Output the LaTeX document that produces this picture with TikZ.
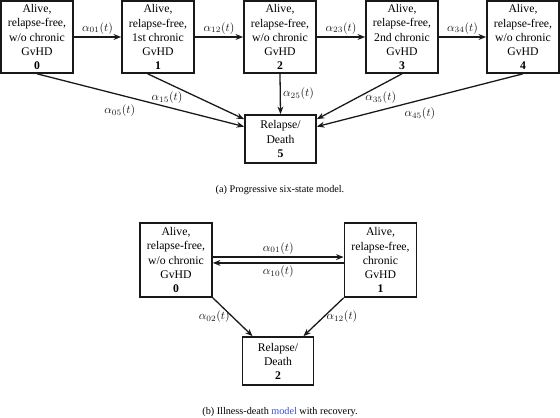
\documentclass[tikz,border=0pt]{standalone}
\usepackage{fontspec}
\setmainfont{Liberation Serif}
\usepackage{amsmath}
\usepackage{tikz}
\usetikzlibrary{arrows.meta, positioning, calc}
\definecolor{mydark}{RGB}{25,25,25}
\definecolor{linkblue}{RGB}{60,80,200}
\tikzset{
  statebox/.style={rectangle, draw=mydark, fill=white,
    minimum width=21.6mm, minimum height=21.6mm, inner sep=0pt,
    align=center, font=\normalsize, line width=1.4pt},
  endbox/.style={rectangle, draw=mydark, fill=white,
    minimum width=21.3mm, minimum height=14.4mm, inner sep=0pt,
    align=center, font=\normalsize, line width=1.4pt},
  arrow/.style={-{Stealth[length=6.5pt,width=5pt]}, line width=1.1pt, color=mydark},
  rate/.style={font=\normalsize, inner sep=2pt},
  capt/.style={font=\fontsize{8.7}{10}\selectfont}
}

\begin{document}
\begin{tikzpicture}[x=0.3mm, y=-0.3mm]
  \useasboundingbox (0,0) rectangle (560,418);

  % (a) Progressive six-state model
  \node[statebox] (s0) at (37,37) {Alive,\\relapse-free,\\w/o chronic\\GvHD\\\textbf{0}};
  \node[statebox] (s1) at (158,37) {Alive,\\relapse-free,\\1st chronic\\GvHD\\\textbf{1}};
  \node[statebox] (s2) at (280,37) {Alive,\\relapse-free,\\w/o chronic\\GvHD\\\textbf{2}};
  \node[statebox] (s3) at (402,37) {Alive,\\relapse-free,\\2nd chronic\\GvHD\\\textbf{3}};
  \node[statebox] (s4) at (523,37) {Alive,\\relapse-free,\\w/o chronic\\GvHD\\\textbf{4}};
  \node[endbox] (s5) at (280.5,139) {Relapse/\\Death\\\textbf{5}};

  % Transitions along the top row
  \draw[arrow] (s0) -- node[rate, above] {$\alpha_{01}(t)$} (s1);
  \draw[arrow] (s1) -- node[rate, above] {$\alpha_{12}(t)$} (s2);
  \draw[arrow] (s2) -- node[rate, above] {$\alpha_{23}(t)$} (s3);
  \draw[arrow] (s3) -- node[rate, above] {$\alpha_{34}(t)$} (s4);

  % Transitions into relapse/death
  \draw[arrow] (s0.south) -- node[rate, pos=0.4, below, yshift=-6pt] {$\alpha_{05}(t)$}
    ($(s5.west)!0.5!(s5.north west)$);
  \draw[arrow] ($(s1.south)!0.28!(s1.south west)$) -- node[rate, pos=0.2, below, yshift=-5pt] {$\alpha_{15}(t)$}
    ($(s5.west)!0.8!(s5.north west)$);
  \draw[arrow] (s2.south) -- node[rate, right] {$\alpha_{25}(t)$} (s5.north);
  \draw[arrow] (s3.south) -- node[rate, pos=0.25, below, yshift=-3pt] {$\alpha_{35}(t)$}
    ($(s5.east)!0.8!(s5.north east)$);
  \draw[arrow] (s4.south) -- node[rate, pos=0.5, below, yshift=-4pt] {$\alpha_{45}(t)$}
    ($(s5.east)!0.5!(s5.north east)$);

  \node[capt] (capa) at (280,190) {(a) Progressive six-state model.};

  % (b) Illness-death model with recovery
  \node[statebox, minimum height=22.2mm] (r0) at (176,260) {Alive,\\relapse-free,\\w/o chronic\\GvHD\\\textbf{0}};
  \node[statebox, minimum height=22.2mm] (r1) at (380.5,260) {Alive,\\relapse-free,\\chronic\\GvHD\\\textbf{1}};
  \node[endbox] (r2) at (278,361) {Relapse/\\Death\\\textbf{2}};

  \draw[arrow] ([yshift=2.5pt]r0.east) -- node[rate, above] {$\alpha_{01}(t)$} ([yshift=2.5pt]r1.west);
  \draw[arrow] ([yshift=-2.5pt]r1.west) -- node[rate, below] {$\alpha_{10}(t)$} ([yshift=-2.5pt]r0.east);
  \draw[arrow] (r0.south east) -- node[rate, left] {$\alpha_{02}(t)$}
    ($(r2.north west)!0.15!(r2.north east)$);
  \draw[arrow] (r1.south west) -- node[rate, right] {$\alpha_{12}(t)$}
    ($(r2.north east)!0.15!(r2.north west)$);

  \node[capt] (capb) at (280,412) {(b) Illness-death \textcolor{linkblue}{model} with recovery.};
\end{tikzpicture}
\end{document}
